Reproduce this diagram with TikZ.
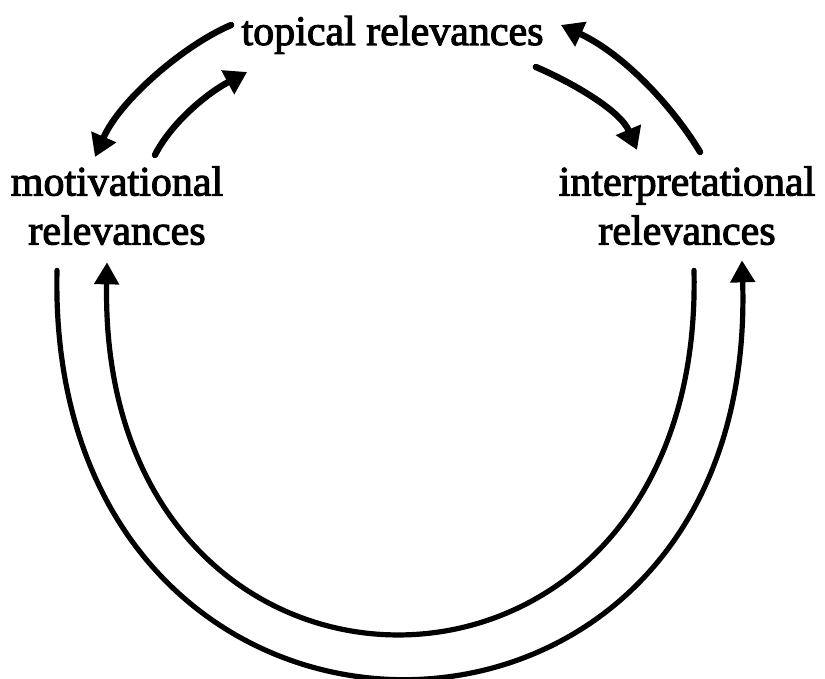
\documentclass[tikz,border=0pt]{standalone}
\usepackage{fontspec}
\newfontfamily\relfont{Liberation Serif}[FakeBold=2.5]
\usepackage{tikz}
\usetikzlibrary{arrows.meta,positioning}
\tikzset{
  relLabel/.style={inner sep=0pt, align=center,
    font=\relfont\fontsize{21}{24.5}\selectfont},
  %% Arrows between the labels
  relArrow/.style={-{Triangle[length=11pt,width=13pt]}, line width=3.2pt, line cap=round},
  relArc/.style={-{Triangle[length=11pt,width=12pt]}, line width=2.6pt, line cap=round},
}
\begin{document}
\begin{tikzpicture}[x=0.5pt, y=-0.5pt]
\useasboundingbox (0,0) rectangle (825,679);

\node[relLabel, anchor=base]  (nTopical) at (392.5,45) {topical relevances};
\node[relLabel, anchor=north] (nMotiv)   at (117,166)  {motivational\\relevances};
\node[relLabel, anchor=north] (nInterp)  at (687,166)  {interpretational\\relevances};

\draw[relArrow] ([shift={(-10,-20)}]nTopical.base west) .. controls +(-47,20) and +(25,-57) .. ([shift={(-22,-9)}]nMotiv.north);
\draw[relArrow] ([shift={(38,-11)}]nMotiv.north) .. controls +(15,-30) and +(-43,23) .. ([shift={(6,27)}]nTopical.base west);
\draw[relArrow] ([shift={(-8,22)}]nTopical.base east) .. controls +(35,15) and +(-17,-40) .. ([shift={(-50,-16)}]nInterp.north);
\draw[relArrow] ([shift={(13,-14)}]nInterp.north) .. controls +(-25,-42) and +(65,30) .. ([shift={(17,-20)}]nTopical.base east);

\draw[relArc] ([shift={(7,25)}]nInterp.south) .. controls +(11,484) and +(-9,492) .. ([shift={(-10,17)}]nMotiv.south);
\draw[relArc] ([shift={(-60,25)}]nMotiv.south) .. controls +(-12,544) and +(17,554) .. ([shift={(55,15)}]nInterp.south);
\end{tikzpicture}
\end{document}
